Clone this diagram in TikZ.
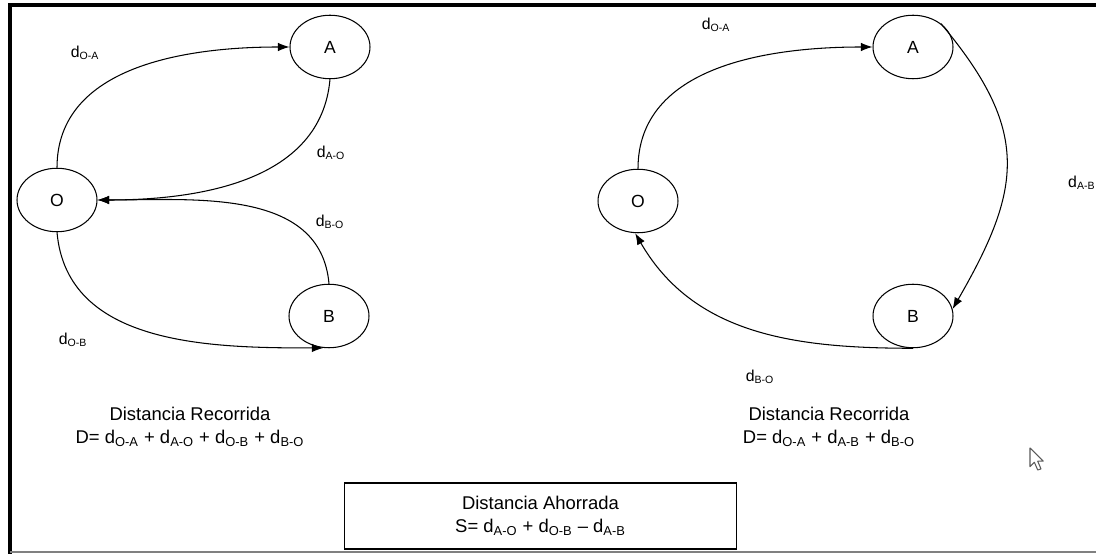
\documentclass[tikz,border=0pt]{standalone}
\usepackage{fontspec}
\setmainfont{Liberation Sans}
\usetikzlibrary{shapes.geometric, arrows.meta}

\begin{document}
\begin{tikzpicture}[x = 0.02cm, y = 0.02cm,
  city/.style = {draw, ellipse, line width = 0.6pt, minimum width = 1.6cm, minimum height = 1.27cm, font = \fontsize{10}{12}\selectfont},
  route/.style = {line width = 0.6pt, -{Latex[length = 2.3mm, width = 1.7mm]}},
  dist/.style = {font = \fontsize{9}{11}\selectfont},
  total/.style = {align = center, font = \fontsize{10.5}{13}\selectfont}]
\useasboundingbox (0, 0) rectangle (1096, 554);
% frame
\draw[line width = 2.4pt] (10, 0) -- (10, 549) -- (1096, 549);
\draw[gray, line width = 0.8pt] (10, 2) -- (1096, 2);

% two separate trips
\node (oL) [city] at (57, 354) {O};
\node (aL) [city] at (330, 507) {A};
\node (bL) [city] at (329, 238) {B};
\draw[route] (oL.north) to [out = 90, in = 180] (aL.west);
\draw[route] (aL.south) to [out = -95, in = 0] (oL.east);
\draw[route] (bL.north) to [out = 95, in = 0] (oL.east);
\draw[route] (oL.south) to [out = -85, in = 180] (bL.-100);
\node (doaL) [dist] at (85, 501) {d\textsubscript{O-A}};
\node (daoL) [dist] at (331, 401) {d\textsubscript{A-O}};
\node (dboL) [dist] at (330, 332) {d\textsubscript{B-O}};
\node (dobL) [dist] at (73, 214) {d\textsubscript{O-B}};
\node (totL) [total] at (190, 127) {Distancia Recorrida\\D= d\textsubscript{O-A} + d\textsubscript{A-O} + d\textsubscript{O-B} + d\textsubscript{B-O}};

% one joined trip
\node (oR) [city] at (638, 353) {O};
\node (aR) [city] at (913, 507) {A};
\node (bR) [city] at (913, 238) {B};
\draw[route] (oR.north) to [out = 90, in = 180] (aR.west);
\draw[route] (aR.40) to [out = -50, in = 60, looseness = 1.25] (bR.10);
\draw[route] (bR.south) to [out = 180, in = -60] (oR.-95);
\node (doaR) [dist] at (716, 529) {d\textsubscript{O-A}};
\node (dabR) [dist, anchor = west] at (1062, 371) {d\textsubscript{A-B}};
\node (dboR) [dist] at (760, 177) {d\textsubscript{B-O}};
\node (totR) [total] at (829, 127) {Distancia Recorrida\\D= d\textsubscript{O-A} + d\textsubscript{A-B} + d\textsubscript{B-O}};

% saving
\node (save) [total, draw, line width = 0.6pt, minimum width = 7.86cm, minimum height = 1.32cm] at (540.5, 38) {Distancia Ahorrada\\S= d\textsubscript{A-O} + d\textsubscript{O-B} -- d\textsubscript{A-B}};

% pointer
\draw[line width = 0.6pt, gray!70!black, line join = round, shift = {(1030, 106)}, scale = 1.1]
  (0, 0) -- (0, -17) -- (4, -13) -- (7, -20) -- (10, -19) -- (7, -12) -- (12, -12) -- cycle;
\end{tikzpicture}
\end{document}
